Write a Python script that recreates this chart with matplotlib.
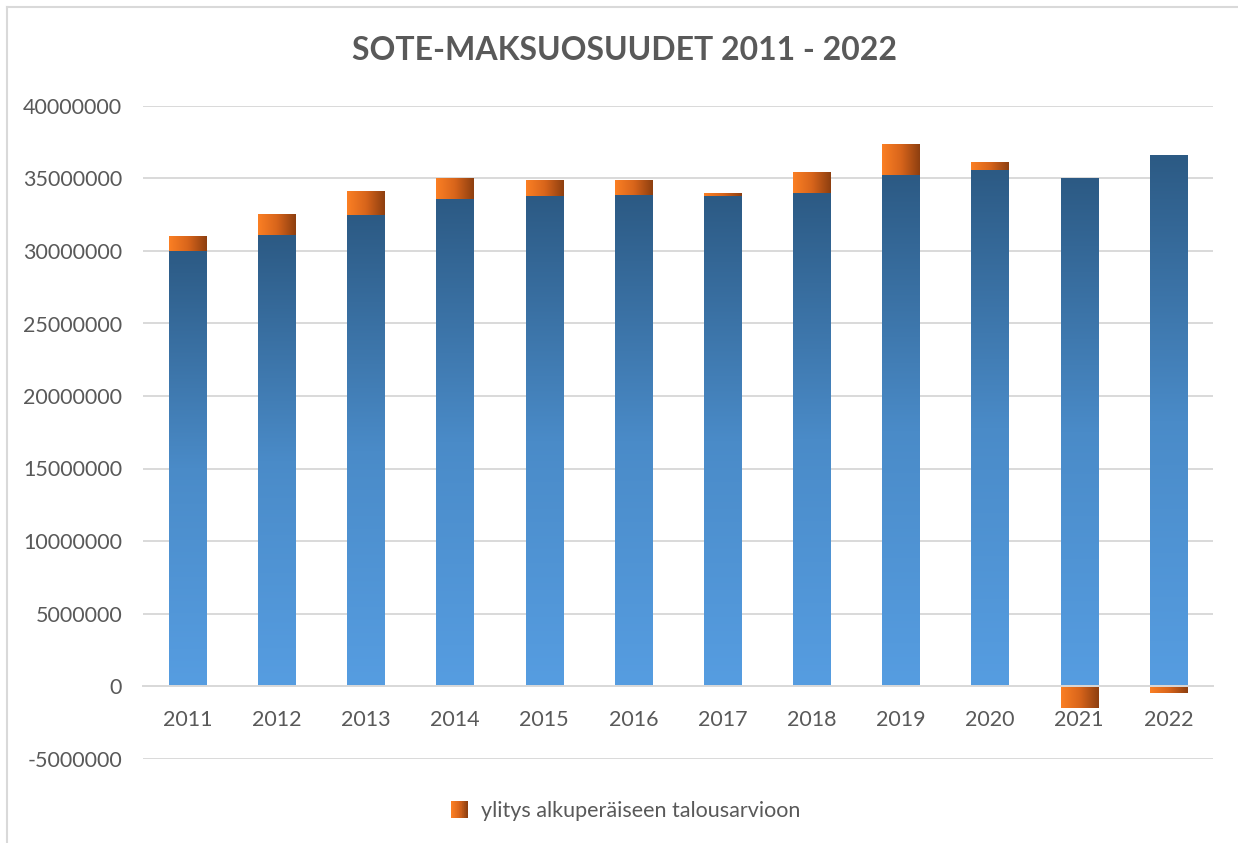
import numpy as np
import matplotlib.pyplot as plt
from matplotlib.colors import LinearSegmentedColormap
from matplotlib.legend_handler import HandlerBase
from matplotlib.patches import Rectangle
from matplotlib.lines import Line2D
from matplotlib.ticker import FuncFormatter

plt.rcParams['font.family'] = ['Lato', 'DejaVu Sans']

years = ["2011", "2012", "2013", "2014", "2015", "2016",
         "2017", "2018", "2019", "2020", "2021", "2022"]
# maksuosuus (alkuperäinen talousarvio)
base = [30000000, 31100000, 32480000, 33590000, 33790000, 33860000,
        33790000, 34000000, 35240000, 35590000, 35030000, 36620000]
# ylitys alkuperäiseen talousarvioon
ylitys = [970000, 1380000, 1590000, 1380000, 1100000, 1030000,
          140000, 1380000, 2070000, 550000, -1550000, -500000]

GRAY = "#595959"
GRID = "#d9d9d9"
blue_cmap = LinearSegmentedColormap.from_list("b", ["#569de1", "#4a8bc8", "#2c5a84"])
orange_cmap = LinearSegmentedColormap.from_list("o", ["#fb7f24", "#d8651b", "#8d3f10"])

fig = plt.figure(figsize=(12.38, 8.43), dpi=100)
ax = fig.add_axes([143 / 1238, 1 - 758.5 / 843, 1070 / 1238, 652.5 / 843])

x = np.arange(len(years))
w = 0.42
b1 = ax.bar(x, base, w, color="none", edgecolor="none")
bottoms = [b if v >= 0 else 0 for b, v in zip(base, ylitys)]
b2 = ax.bar(x, ylitys, w, bottom=bottoms, color="none", edgecolor="none")


def gradient_fill(patch, cmap, vertical):
    x0, y0 = patch.get_x(), patch.get_y()
    pw, ph = patch.get_width(), patch.get_height()
    if vertical:
        grad = np.linspace(0, 1, 256).reshape(-1, 1)
    else:
        grad = np.linspace(0, 1, 256).reshape(1, -1)
    ax.imshow(grad, cmap=cmap, origin="lower", aspect="auto", zorder=2,
              interpolation="bilinear",
              extent=(x0, x0 + pw, min(y0, y0 + ph), max(y0, y0 + ph)))


for p in b1:
    gradient_fill(p, blue_cmap, True)
for p in b2:
    gradient_fill(p, orange_cmap, False)

ax.set_xlim(-0.5, len(years) - 0.5)
ax.set_ylim(-5000000, 40000000)
ax.set_yticks(range(-5000000, 40000001, 5000000))
ax.yaxis.set_major_formatter(FuncFormatter(lambda v, p: f"{int(v)}"))
ax.set_xticks(x)
ax.set_xticklabels(years)
ax.yaxis.grid(True, color=GRID, lw=1.4)
ax.set_axisbelow(True)
for s in ["top", "right", "left"]:
    ax.spines[s].set_visible(False)
ax.spines["bottom"].set_position(("data", 0))
ax.spines["bottom"].set_color(GRID)
ax.spines["bottom"].set_linewidth(1.4)
ax.spines["bottom"].set_zorder(3)
ax.tick_params(axis="y", length=0, pad=15, labelsize=15.5, labelcolor=GRAY)
ax.tick_params(axis="x", length=0, pad=17, labelsize=15.5, labelcolor=GRAY)

fig.text(624 / 1238, 1 - 50 / 843, "SOTE-MAKSUOSUUDET 2011 - 2022",
         ha="center", va="center", fontsize=23, fontweight="bold", color=GRAY)


class GradientHandler(HandlerBase):
    def create_artists(self, legend, orig_handle, xdescent, ydescent,
                       width, height, fontsize, trans):
        n = 24
        sz = min(width, height)
        arts = []
        for i in range(n):
            r = Rectangle((-xdescent + i * sz / n, -ydescent + (height - sz) / 2),
                          sz / n * 1.1, sz, facecolor=orange_cmap(i / (n - 1)),
                          edgecolor="none", transform=trans)
            arts.append(r)
        return arts


proxy = Rectangle((0, 0), 1, 1)
leg = fig.legend([proxy], ["ylitys alkuperäiseen talousarvioon"],
                 handler_map={Rectangle: GradientHandler()},
                 loc="center", bbox_to_anchor=(626 / 1238, 1 - 811 / 843),
                 frameon=False, fontsize=15.5, handlelength=0.8, handleheight=0.8,
                 handletextpad=0.6)
for t in leg.get_texts():
    t.set_color(GRAY)

fig.add_artist(Line2D([7 / 1238, 1], [1 - 7 / 843] * 2, color=GRID, lw=1.5))
fig.add_artist(Line2D([7 / 1238] * 2, [0, 1 - 7 / 843], color=GRID, lw=1.5))

fig.savefig("out.png", dpi=100)
